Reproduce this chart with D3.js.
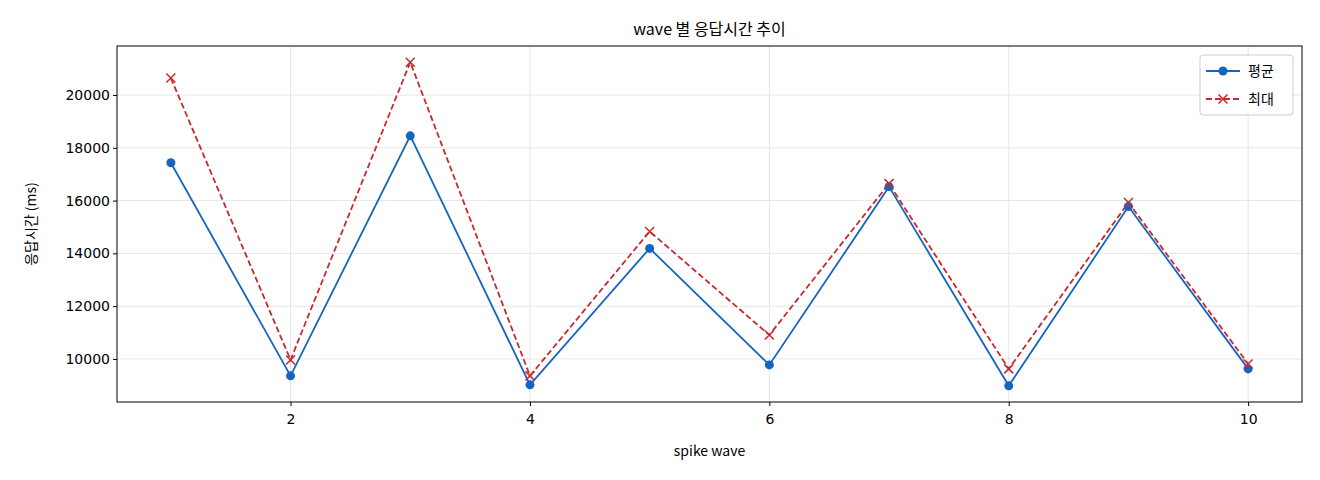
<!DOCTYPE html>
<html><head><meta charset="utf-8">
<script src="https://cdn.jsdelivr.net/npm/d3@7"></script>
<style>body{margin:0;background:#fff}text{font-family:"Noto Sans CJK KR","DejaVu Sans",sans-serif}</style>
</head><body><svg id="c" width="1320" height="480"></svg>
<script>
const waves=[1,2,3,4,5,6,7,8,9,10];
const avgValues=[17434,9358,18453,9019,14189,9774,16528,8981,15774,9623];
const maxValues=[20642,9962,21245,9358,14830,10906,16642,9623,15925,9811];
const xTicks=[2,4,6,8,10];
const yTicks=[10000,12000,14000,16000,18000,20000];
const seriesLabels=["평균","최대"];

const svg=d3.select("#c");
const L=117,R=1302,T=46,B=402;
const x=d3.scaleLinear().domain([0.55,10.45]).range([L,R]);
const lo=d3.min(avgValues.concat(maxValues)),hi=d3.max(avgValues.concat(maxValues)),m=(hi-lo)*0.05;
const y=d3.scaleLinear().domain([lo-m,hi+m]).range([B,T]);
const g=svg.append("g");
xTicks.forEach(t=>g.append("line").attr("x1",x(t)).attr("x2",x(t)).attr("y1",T).attr("y2",B).attr("stroke","#e6e6e6"));
yTicks.forEach(t=>g.append("line").attr("x1",L).attr("x2",R).attr("y1",y(t)).attr("y2",y(t)).attr("stroke","#e6e6e6"));
const xa=svg.append("g").attr("transform",`translate(0,${B})`).call(d3.axisBottom(x).tickValues(xTicks).tickSize(4).tickSizeOuter(0));
const ya=svg.append("g").attr("transform",`translate(${L},0)`).call(d3.axisLeft(y).tickValues(yTicks).tickSize(4).tickSizeOuter(0).tickFormat(d3.format("d")));
[xa,ya].forEach(a=>{a.select(".domain").remove();a.selectAll("text").attr("font-size",14).attr("fill","#000").style("font-family","DejaVu Sans");});
xa.selectAll("text").attr("dy","1.1em");
svg.append("rect").attr("x",L).attr("y",T).attr("width",R-L).attr("height",B-T).attr("fill","none").attr("stroke","#000");
const line=d3.line().x((d,i)=>x(waves[i])).y(d=>y(d));
svg.append("path").attr("d",line(maxValues)).attr("fill","none").attr("stroke-width",1.8).attr("stroke-dasharray","6,3").attr("stroke","#c9282d");
svg.append("path").attr("d",line(avgValues)).attr("fill","none").attr("stroke","#1565c0").attr("stroke-width",1.8);
avgValues.forEach((v,i)=>svg.append("circle").attr("cx",x(waves[i])).attr("cy",y(v)).attr("r",4.5).attr("fill","#1565c0"));
const cross=(px,py,c,s=4.5)=>svg.append("path").attr("d",`M${px-s},${py-s}L${px+s},${py+s}M${px-s},${py+s}L${px+s},${py-s}`).attr("stroke",c).attr("stroke-width",1.5);
maxValues.forEach((v,i)=>cross(x(waves[i]),y(v),"#c9282d"));
svg.append("text").attr("x",(L+R)/2).attr("y",35).attr("text-anchor","middle").attr("font-size",16).text("wave 별 응답시간 추이");
svg.append("text").attr("x",(L+R)/2).attr("y",456).attr("text-anchor","middle").attr("font-size",14).text("spike wave");
svg.append("text").attr("transform",`translate(36,${(T+B)/2}) rotate(-90)`).attr("text-anchor","middle").attr("font-size",14).text("응답시간 (ms)");
const lg=svg.append("g");
lg.append("rect").attr("x",1200).attr("y",55).attr("width",93).attr("height",60).attr("rx",3).attr("fill","#fff").attr("stroke","#ccc");
lg.append("line").attr("x1",1206).attr("x2",1240).attr("y1",71).attr("y2",71).attr("stroke","#1565c0").attr("stroke-width",1.8);
lg.append("circle").attr("cx",1223).attr("cy",71).attr("r",4.5).attr("fill","#1565c0");
lg.append("line").attr("x1",1206).attr("x2",1240).attr("y1",99).attr("y2",99).attr("stroke","#c9282d").attr("stroke-width",1.8).attr("stroke-dasharray","6,3");
cross(1223,99,"#c9282d");
lg.append("text").attr("x",1248).attr("y",76).attr("font-size",14).text(seriesLabels[0]);
lg.append("text").attr("x",1248).attr("y",104).attr("font-size",14).text(seriesLabels[1]);
</script></body></html>
